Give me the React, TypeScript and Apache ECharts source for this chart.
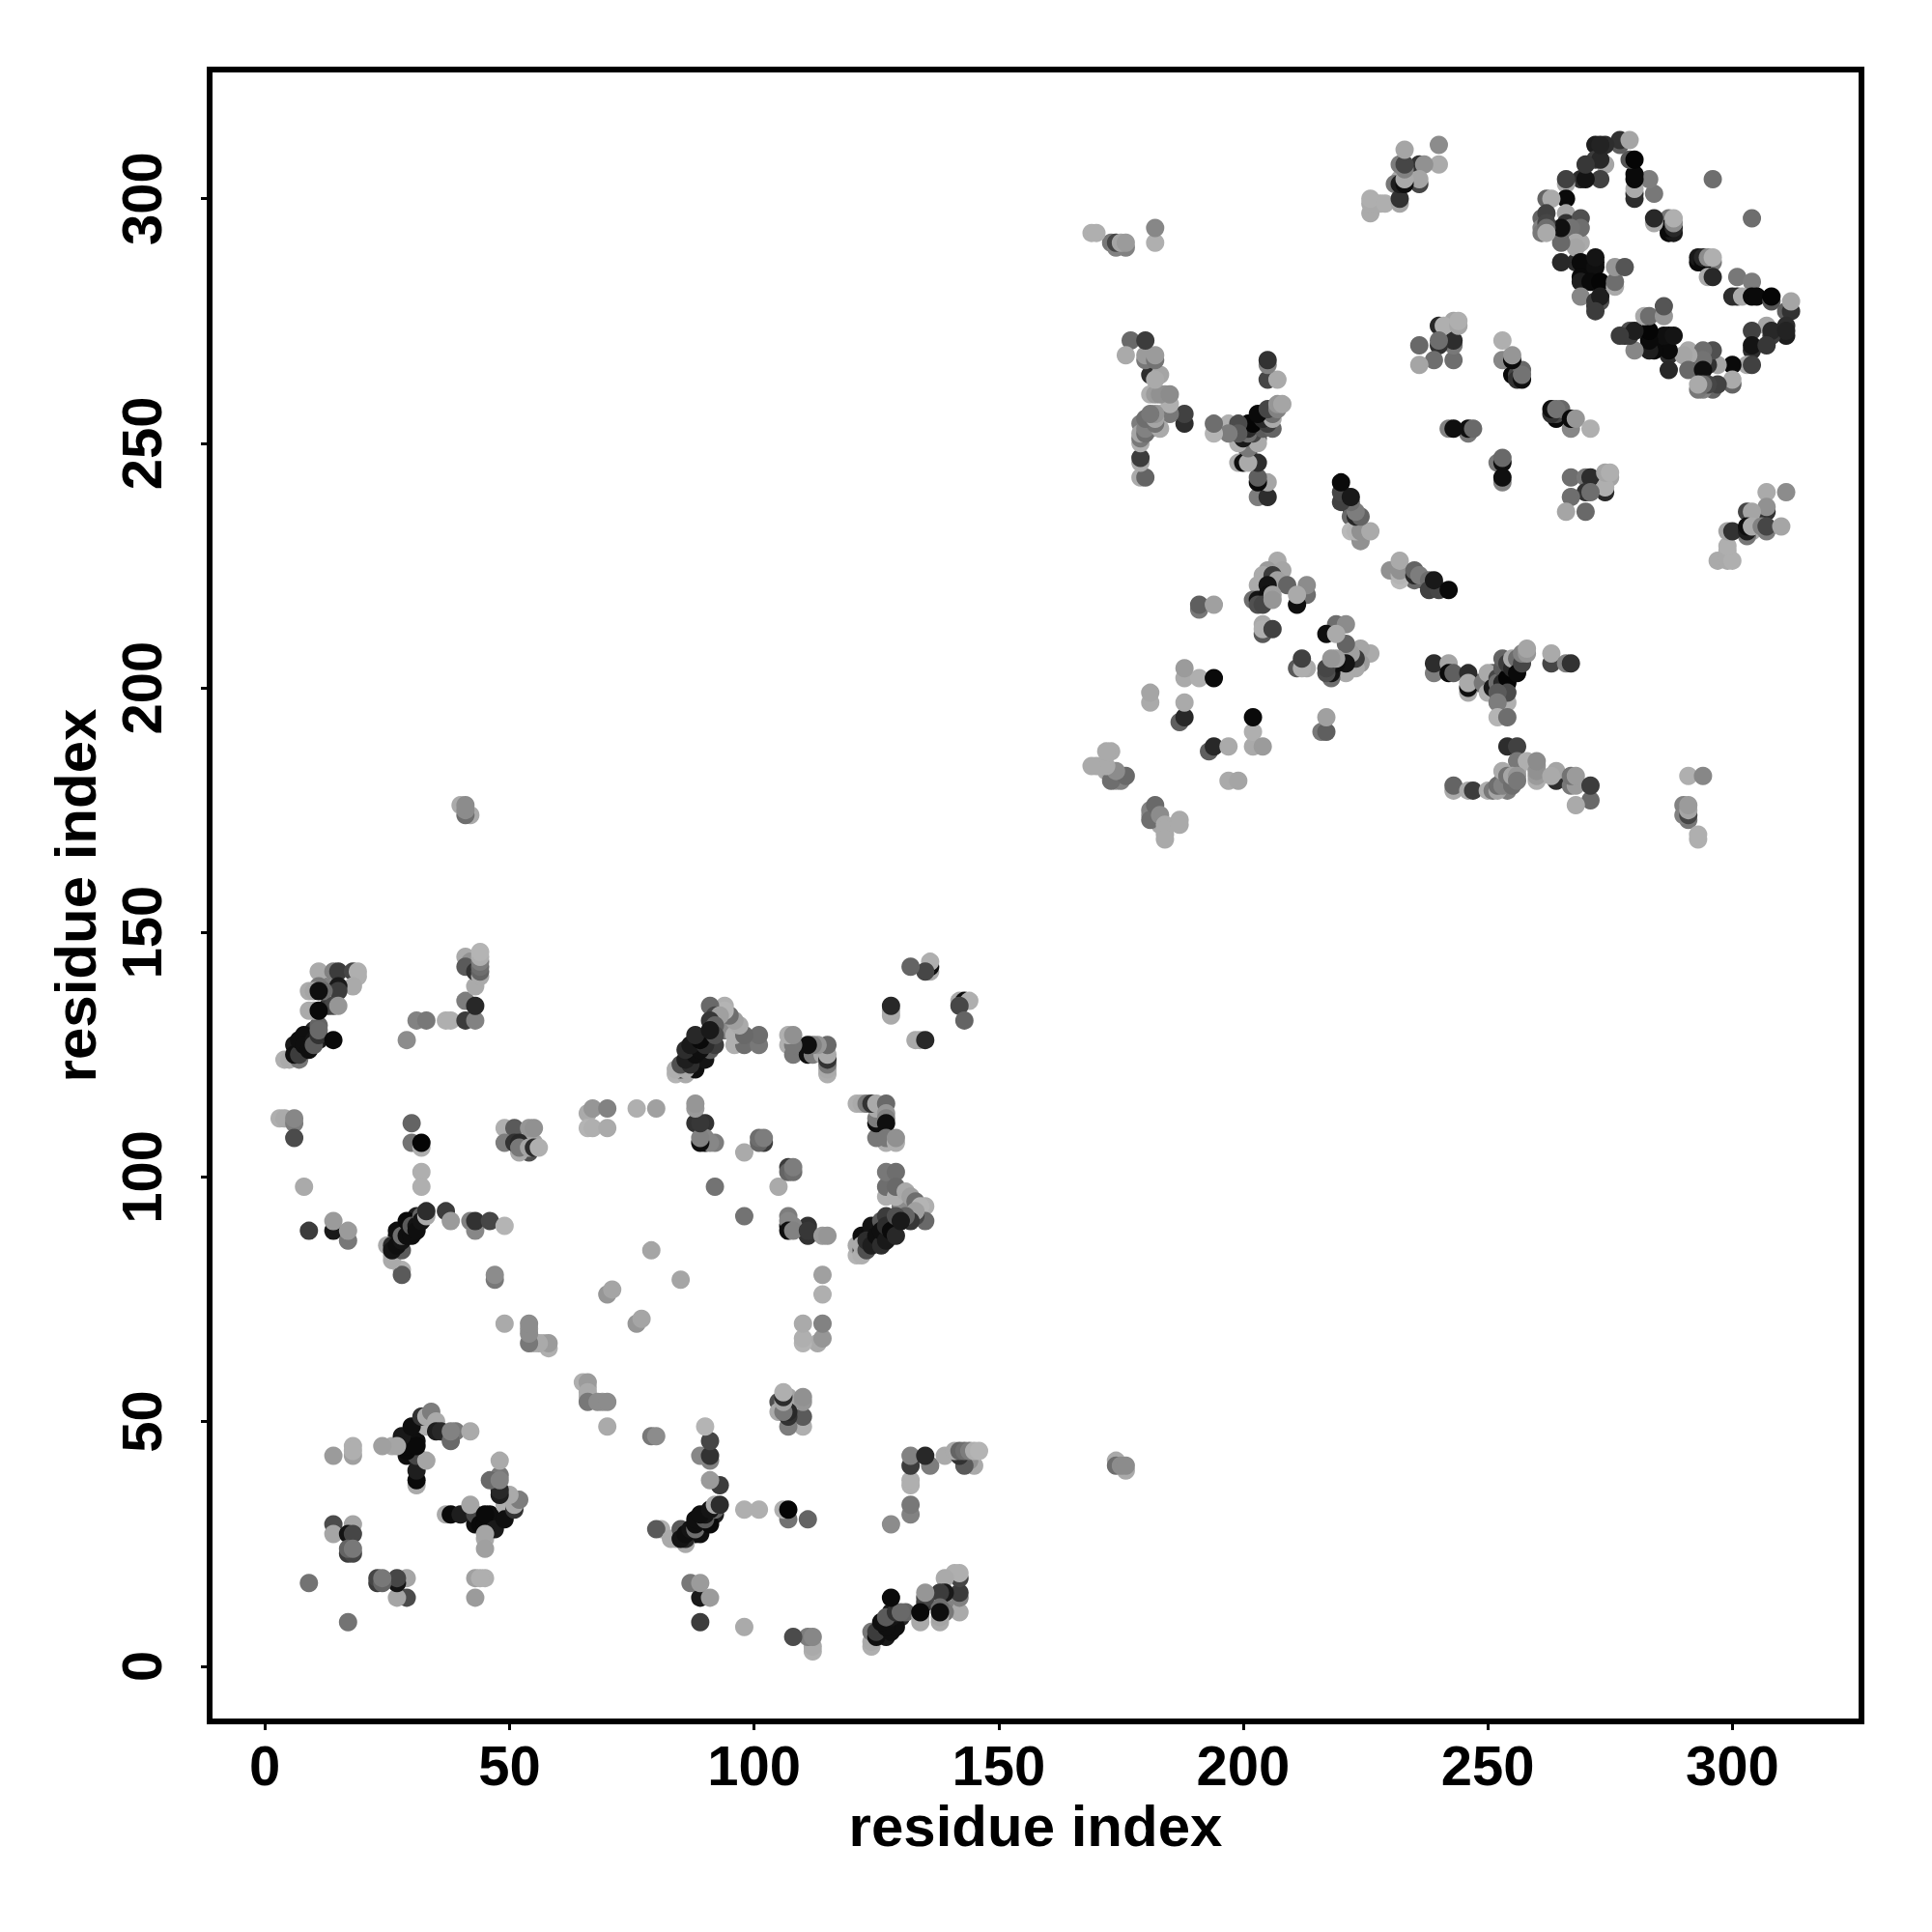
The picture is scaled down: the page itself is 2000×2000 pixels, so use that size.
import React, { useEffect, useRef } from "react";
import * as echarts from "echarts";

const tickValues = [0, 50, 100, 150, 200, 250, 300];
const axisTitle = "residue index";

// contacts: [residue i, residue j, grey level]; the map is symmetric, so each is drawn at (i,j) and (j,i)
const contactsA: number[][] = [
  [9,17,115],[14,29,75],[18,29,165],[14,27,165],[17,27,20],[18,27,70],[17,24,60],[18,24,125],[17,23,55],
  [17,23,60],[18,23,70],[17,24,100],[18,24,120],[14,43,155],[18,43,160],[18,45,175],[18,44,175],[24,45,160],[26,45,170],
  [28,47,45],[29,45,15],[30,49,10],[31,46,15],[29,43,15],[31,43,80],[33,42,175],[31,37,170],[31,38,10],
  [32,51,150],[33,49,175],[34,52,130],[35,50,130],[35,48,35],[38,48,45],[39,48,120],[38,46,110],[42,48,170],
  [37,31,170],[38,31,10],[40,31,30],[43,31,70],[42,33,165],[44,29,10],[45,29,10],[45,31,10],[47,28,25],[49,30,15],
  [51,32,50],[51,33,170],[52,34,125],[50,35,170],[48,35,30],[48,36,40],[46,38,105],[48,38,130],[45,27,165],[45,24,160],
  [28,80,90],[28,81,175],[47,79,130],[47,80,140],[49,70,170],[54,70,145],[54,69,150],[54,66,120],[55,66,175],[57,66,175],[58,66,150],[58,65,170],
  [65,58,175],[66,58,155],[66,56,170],[66,54,120],[68,54,140],[70,54,140],[70,49,170],[70,76,150],[71,77,160],[76,70,150],[77,71,165],[79,85,165],
  [79,47,120],[80,47,140],[81,28,175],[80,28,90],[83,26,170],
];
const contactsB: number[][] = [
  [85,28,70],[86,25,170],[86,26,15],[87,27,40],[88,27,15],[88,28,90],[89,28,15],[89,27,10],[89,29,150],[90,29,15],[90,30,25],[91,30,10],[91,31,70],[92,31,30],[92,32,120],[92,33,160],[93,33,35],
  [85,26,120],[84,26,170],[87,17,130],[89,17,160],[89,14,25],[91,14,170],[89,9,50],[98,8,180],[90,49,170],[91,46,70],[89,43,155],[91,43,45],[91,42,110],[91,38,165],[93,37,65],
  [98,32,185],[101,32,185],[106,32,170],[107,30,110],[107,32,10],[111,30,105],
  [106,56,175],[107,55,165],[110,55,140],[110,54,135],[105,54,80],[105,52,170],[107,49,120],[110,49,170],[107,51,60],[110,51,85],
  [110,70,175],[114,70,135],[110,67,185],[113,66,170],[114,67,150],[114,80,155],[114,76,170],
  [108,6,75],[111,6,160],[112,3,170],[112,4,165],[112,6,125],
  [124,4,175],[124,7,125],[125,6,70],[126,9,10],[127,6,20],[127,8,25],[128,7,30],[128,9,15],[129,8,10],[129,10,70],[128,11,25],[130,10,40],[131,11,100],[128,14,10],
  [134,9,170],[134,11,10],[135,13,60],[135,15,160],[138,9,170],[138,11,20],[139,12,130],[139,15,30],[139,18,175],[141,19,175],[142,18,110],[142,19,185],[142,14,115],[142,15,60],[142,11,170],
  [132,43,135],[132,41,60],[135,43,50],[136,41,125],[132,38,180],[132,37,180],[132,31,140],[132,33,120],[128,29,140],
  [139,43,175],[141,44,90],[142,44,70],[143,44,100],[144,44,130],[145,44,170],[146,44,180],[143,41,110],[145,41,170],[143,42,80],
  [174,42,170],[174,41,110],[176,40,170],[175,41,140],[176,41,140],
];
const contactsC: number[][] = [
  [11,142,170],[14,142,130],[15,142,60],[18,142,70],[19,142,175],[18,139,170],[15,139,25],[15,138,60],[11,139,120],[12,138,110],[10,138,165],[11,138,15],[14,135,70],[15,135,150],[10,134,170],[11,134,10],
  [4,124,175],[5,124,170],[7,124,120],[6,127,25],[6,125,15],[7,125,60],[7,128,15],[8,129,15],[8,127,15],[9,126,15],[10,128,20],[10,127,90],[11,129,50],[11,130,105],[14,128,10],
  [29,128,140],[31,132,130],[33,132,120],[37,132,175],[38,132,175],[41,132,60],[43,132,130],[41,136,125],[43,135,40],[43,139,170],
  [41,145,170],[42,144,145],[41,143,90],[43,142,50],[44,141,170],[44,142,100],[44,143,110],[44,144,125],[44,145,175],[44,146,180],
  [3,112,175],[4,112,170],[6,111,125],[6,112,135],[6,108,75],[30,111,100],[30,107,115],[32,106,175],[32,107,5],[32,101,175],[32,98,175],[8,98,170],[9,89,60],
  [14,89,25],[14,91,155],[17,87,120],[17,89,155],
  [25,86,170],[26,83,170],[28,85,90],[26,86,40],[26,85,20],[27,86,15],[27,89,15],[28,87,20],[28,88,110],[29,91,10],[29,88,15],[30,88,15],[30,90,90],[31,90,20],[31,89,15],[32,92,100],[32,91,20],[33,92,170],[33,93,45],[37,93,60],[38,91,155],[42,91,130],[43,89,135],[43,91,50],[46,91,70],[49,90,180],
  [49,110,175],[51,110,90],[54,110,150],[55,110,145],[49,107,125],[51,107,50],[52,107,40],[52,106,120],[54,106,165],[55,106,45],[56,106,175],
  [66,113,170],[67,114,150],[70,114,130],[66,110,180],[67,110,175],[70,110,170],[76,114,175],[80,114,160],
  [88,114,150],[88,115,140],[88,111,50],[90,111,50],[90,107,15],[90,108,135],[92,107,125],[92,98,115],[98,105,170],[102,107,60],[101,107,100],[101,108,110],[102,108,125],
  [91,107,135],[89,107,15],[89,108,130],[89,111,55],[114,88,155],[115,88,150],
];
const contactsD: number[][] = [
  [84,121,180],[86,121,170],[85,122,60],[86,122,80],[87,123,30],[87,125,45],[88,122,15],[88,125,130],[89,124,15],[89,127,10],[90,126,15],[90,124,20],[91,127,40],[91,126,90],[92,127,60],[91,130,70],[92,130,130],[91,132,70],[93,130,80],[93,132,170],[94,133,180],[91,135,105],[94,130,110],[95,130,140],[96,129,160],[97,128,170],[96,127,175],[98,127,110],[101,127,120],
  [107,127,175],[108,127,145],[108,125,120],[111,125,15],[112,125,125],[114,125,170],[115,121,175],[115,122,160],[115,123,110],[115,124,170],[115,125,110],
  [122,115,170],[123,115,120],[124,115,50],[125,115,170],[127,115,105],[127,113,150],[127,112,130],[127,111,15],[127,108,120],[129,107,175],[129,108,145],
  [129,101,110],[129,96,175],[129,98,105],[131,97,170],[132,96,160],[133,95,110],[135,94,175],[134,94,180],[135,91,105],[133,92,70],[133,93,160],[132,91,55],[131,92,100],
  [122,84,175],[122,86,170],[123,85,80],[123,87,45],[124,86,30],[125,88,15],[126,86,45],[126,89,15],[127,87,25],[127,90,45],[128,89,10],[129,88,40],[129,92,80],[130,91,25],
  [132,143,105],[136,142,170],[135,142,105],[136,143,20],[136,144,175],[128,133,170],[128,134,170],[128,135,40],[142,136,170],[143,136,15],[144,136,175],[142,135,70],[143,132,100],
];
const contactsE: number[][] = [
  [169,293,175],[170,293,175],[173,291,120],[174,291,120],[175,291,170],[176,290,130],[176,291,145],[182,291,170],[182,294,140],
  [172,187,175],[173,187,175],[169,184,175],[170,184,170],[172,183,170],[173,182,160],[174,183,160],[174,181,155],[175,181,165],[176,182,100],
  [181,175,130],[181,173,110],[182,176,105],[183,174,140],[184,172,170],[184,171,170],[184,169,170],[187,173,170],[187,172,170],
  [181,199,170],[181,197,170],[188,204,155],[188,202,170],[191,202,175],[194,202,15],[187,193,100],[188,194,40],[188,197,170],
  [193,187,95],[194,188,40],[197,188,170],[197,181,170],[199,181,165],[202,188,170],[202,191,175],[202,194,10],[204,188,155],
  [217,194,160],[216,191,110],[217,191,80],[212,206,70],[212,204,80],[213,204,170],
  [204,211,90],[204,212,175],[206,212,65],
  [177,271,110],[180,271,70],[176,268,160],[180,268,120],[181,267,100],[182,267,60],[182,268,135],[182,264,50],[183,264,170],
  [182,260,170],[184,260,150],[185,260,135],[185,258,165],[185,256,110],[188,254,50],[188,256,60],[183,256,170],[182,256,175],[181,255,130],[180,255,100],[179,254,125],[180,253,90],[181,253,150],[180,252,120],[179,252,170],[179,247,70],[179,243,175],[180,243,115],
  [194,252,185],[194,254,120],[197,254,175],[197,252,125],[199,254,80],[199,251,45],[201,254,5],[200,251,30],[201,252,110],[203,252,25],[203,254,30],[203,251,100],[204,253,40],[205,255,30],[204,256,15],[205,257,60],[206,256,110],[206,257,170],[207,258,165],[208,258,170],
  [201,248,95],[200,246,170],[201,246,10],[203,246,45],[203,243,100],[205,242,160],[203,239,125],[205,239,40],
  [205,266,110],[205,267,50],[205,263,70],[207,263,165],
  [220,242,10],[220,238,65],[222,239,20],[222,237,40],[222,235,105],[224,235,110],[222,232,185],[224,230,145],[224,232,150],[226,232,180],
  [230,224,145],[232,223,180],[232,224,145],[232,226,170],[235,223,40],[235,224,100],[236,223,125],[238,222,110],[238,220,65],[240,220,70],[239,222,25],[242,220,10],
  [207,226,170],[205,224,155],[208,224,165],[204,223,170],[206,223,60],[207,222,160],[203,221,170],[205,221,20],[209,221,100],[213,219,110],[213,221,140],[211,217,15],[211,219,170],[202,218,110],[203,218,20],[205,219,15],[203,217,80],[204,217,70],[206,219,160],[206,218,150],
  [191,216,120],[191,217,95],[194,217,160],
];
const contactsF: number[][] = [
  [239,203,125],[239,205,45],[242,205,165],[242,203,10],[243,203,95],[246,203,45],[246,199,170],[246,200,15],[246,201,170],
  [249,201,120],[250,199,175],[250,203,170],[251,200,25],[252,202,70],[252,201,110],[253,204,90],[253,201,40],[253,206,100],[254,202,5],[254,205,60],[255,204,40],[255,206,170],[256,206,110],[256,203,10],[257,205,70],[257,207,130],[258,207,150],[258,208,165],
  [254,197,175],[254,199,75],[252,199,90],[252,197,125],[252,194,180],[254,194,110],
  [263,205,70],[263,207,170],[266,205,130],[267,205,50],
  [254,188,45],[256,188,65],[256,185,120],[258,185,175],[260,181,175],[260,182,155],[260,183,145],[260,185,140],[264,181,45],[264,183,165],[263,182,170],[267,180,120],[268,180,155],[267,182,115],[268,182,155],[271,177,105],[271,180,60],[268,176,170],
  [243,179,170],[243,180,100],[246,179,170],[247,179,60],[250,179,175],[251,179,120],[252,179,165],[252,180,110],[253,180,130],[253,183,170],[254,182,115],[255,180,110],[255,182,165],[256,182,150],[256,181,120],
  [291,182,175],[294,182,135],[290,176,130],[290,174,130],[291,174,70],[291,175,165],[291,176,155],[293,169,175],[293,170,175],
  [236,270,110],[240,274,55],[241,274,175],[243,275,165],[244,275,175],[243,271,40],[240,270,50],[240,271,120],[239,267,110],[236,266,170],[243,267,110],
  [253,271,170],[253,267,125],[255,267,10],[255,268,160],[255,264,10],[256,264,70],[257,264,15],[257,265,105],
  [242,253,170],[243,253,15],[246,252,125],[246,253,15],[247,253,100],
  [263,256,50],[263,257,15],[264,257,115],[267,253,135],[267,255,10],[268,255,150],[271,253,175],
  [252,246,120],[253,246,15],[253,247,105],[253,242,130],[253,243,15],
  [267,243,110],[270,243,120],[271,243,45],[274,240,40],[274,241,175],[274,244,165],[275,244,175],[270,240,50],[271,240,110],[267,239,110],[266,236,165],[270,236,105],
  [307,240,170],[311,240,140],[307,236,50],[307,237,145],[303,236,70],[304,236,165],[303,233,15],[304,232,170],[303,231,115],[300,232,50],[299,232,165],[306,233,130],[307,232,125],[307,233,70],[310,233,165],[299,226,165],[299,227,110],[299,228,175],[299,229,175],[297,226,165],[300,226,175],
  [226,297,170],[226,299,170],[227,299,170],[226,300,175],[229,299,175],[232,299,165],[231,303,120],[232,300,50],[232,303,30],[233,303,15],[233,304,170],[233,306,130],[233,307,70],[233,310,165],
];
const contactsG: number[][] = [
  [272,311,30],[273,311,45],[277,312,90],[279,312,170],[279,308,120],[280,308,10],[270,307,45],[272,308,60],[274,307,165],[280,300,45],[280,301,175],[280,304,5],[280,305,10],[283,304,120],[284,301,120],
  [266,303,170],[266,304,50],[269,304,15],[270,304,20],[273,304,90],[262,300,130],[263,300,170],[266,300,5],
  [262,297,65],[261,296,100],[266,297,165],[269,294,100],[269,296,85],[261,293,60],[261,294,130],[262,293,170],[265,294,170],[265,293,50],[265,291,90],[269,291,170],[266,295,60],
  [265,287,40],[268,287,45],[269,287,5],[272,287,15],[276,286,150],[278,286,85],[269,284,10],[270,283,165],[271,284,15],[272,283,10],[273,283,5],[276,282,170],[276,283,110],[273,282,165],[269,280,130],[272,278,50],[273,279,80],[273,280,20],
  [284,295,170],[284,296,35],[287,293,10],[288,293,25],[288,294,110],[287,296,120],[288,295,130],[288,296,175],
  [296,304,110],[294,287,10],[294,288,40],[295,288,140],[296,288,175],[295,284,170],[296,284,40],
  [301,284,120],[304,283,125],[301,280,45],[302,280,170],[304,280,10],[305,280,10],[308,279,85],[308,280,5],[311,277,95],[312,277,50],[312,279,165],[311,274,45],[307,274,165],[304,273,65],[308,273,40],[311,273,35],[304,269,45],[304,270,20],[307,270,55],
  [303,266,170],[304,266,65],[300,266,10],[300,262,100],[300,263,170],[297,266,165],[297,262,65],[295,266,50],[296,269,80],[294,269,110],[294,267,115],[291,268,170],[290,268,165],[291,265,105],[294,265,15],[295,262,70],[293,261,120],[294,262,110],[293,262,170],
  [287,265,40],[287,269,10],[284,269,10],[283,269,30],[286,272,15],[288,272,20],[283,271,10],[283,273,5],[280,269,135],[279,272,60],[280,273,30],[277,272,60],[282,276,170],[283,276,110],[286,276,150],[286,278,85],
];
const allContacts = [contactsA, contactsB, contactsC, contactsD, contactsE, contactsF, contactsG];

const buildPoints = () => {
  const seen = new Map<string, number[]>();
  for (const group of allContacts) {
    for (const [a, b, g] of group) {
      const i = Math.min(a, b);
      const j = Math.max(a, b);
      const key = `${i}-${j}`;
      seen.delete(key);
      seen.set(key, [i, j, g]);
    }
  }
  const pts: any[] = [];
  for (const [i, j, g] of seen.values()) {
    const color = `rgb(${g},${g},${g})`;
    pts.push({ value: [i, j], itemStyle: { color } });
    pts.push({ value: [j, i], itemStyle: { color } });
  }
  return pts;
};

export default function App() {
  const ref = useRef<HTMLDivElement>(null);
  useEffect(() => {
    const chart = echarts.init(ref.current!, null, { renderer: "svg" });
    const font = {
      fontFamily: "Liberation Sans",
      fontWeight: "bold" as const,
      fontSize: 58,
      color: "#000",
    };
    const baseAxis = {
      type: "value" as const,
      min: -11.3,
      max: 326.4,
      splitLine: { show: false },
      axisLine: { show: false, onZero: false },
      axisTick: {
        show: true,
        length: 9,
        customValues: tickValues,
        lineStyle: { color: "#000", width: 3 },
      },
      nameLocation: "middle" as const,
      name: axisTitle,
      nameTextStyle: { ...font, fontSize: 60 },
    };
    chart.setOption({
      animation: false,
      backgroundColor: "#fff",
      grid: {
        show: true,
        left: 217,
        right: 73,
        top: 72,
        bottom: 218,
        borderColor: "#000",
        borderWidth: 6,
        backgroundColor: "transparent",
      },
      xAxis: {
        ...baseAxis,
        nameGap: 78,
        axisLabel: { ...font, customValues: tickValues, margin: 16, hideOverlap: false },
      },
      yAxis: {
        ...baseAxis,
        nameGap: 109,
        axisLabel: { ...font, customValues: tickValues, rotate: 90, margin: 42, hideOverlap: false },
      },
      series: [
        {
          type: "scatter",
          symbol: "circle",
          symbolSize: 19,
          data: buildPoints(),
          itemStyle: { opacity: 1 },
        },
      ],
    });
    return () => chart.dispose();
  }, []);
  return (
    <div
      ref={ref}
      style={{ position: "absolute", left: 0, top: 0, width: 2000, height: 2000 }}
    />
  );
}
